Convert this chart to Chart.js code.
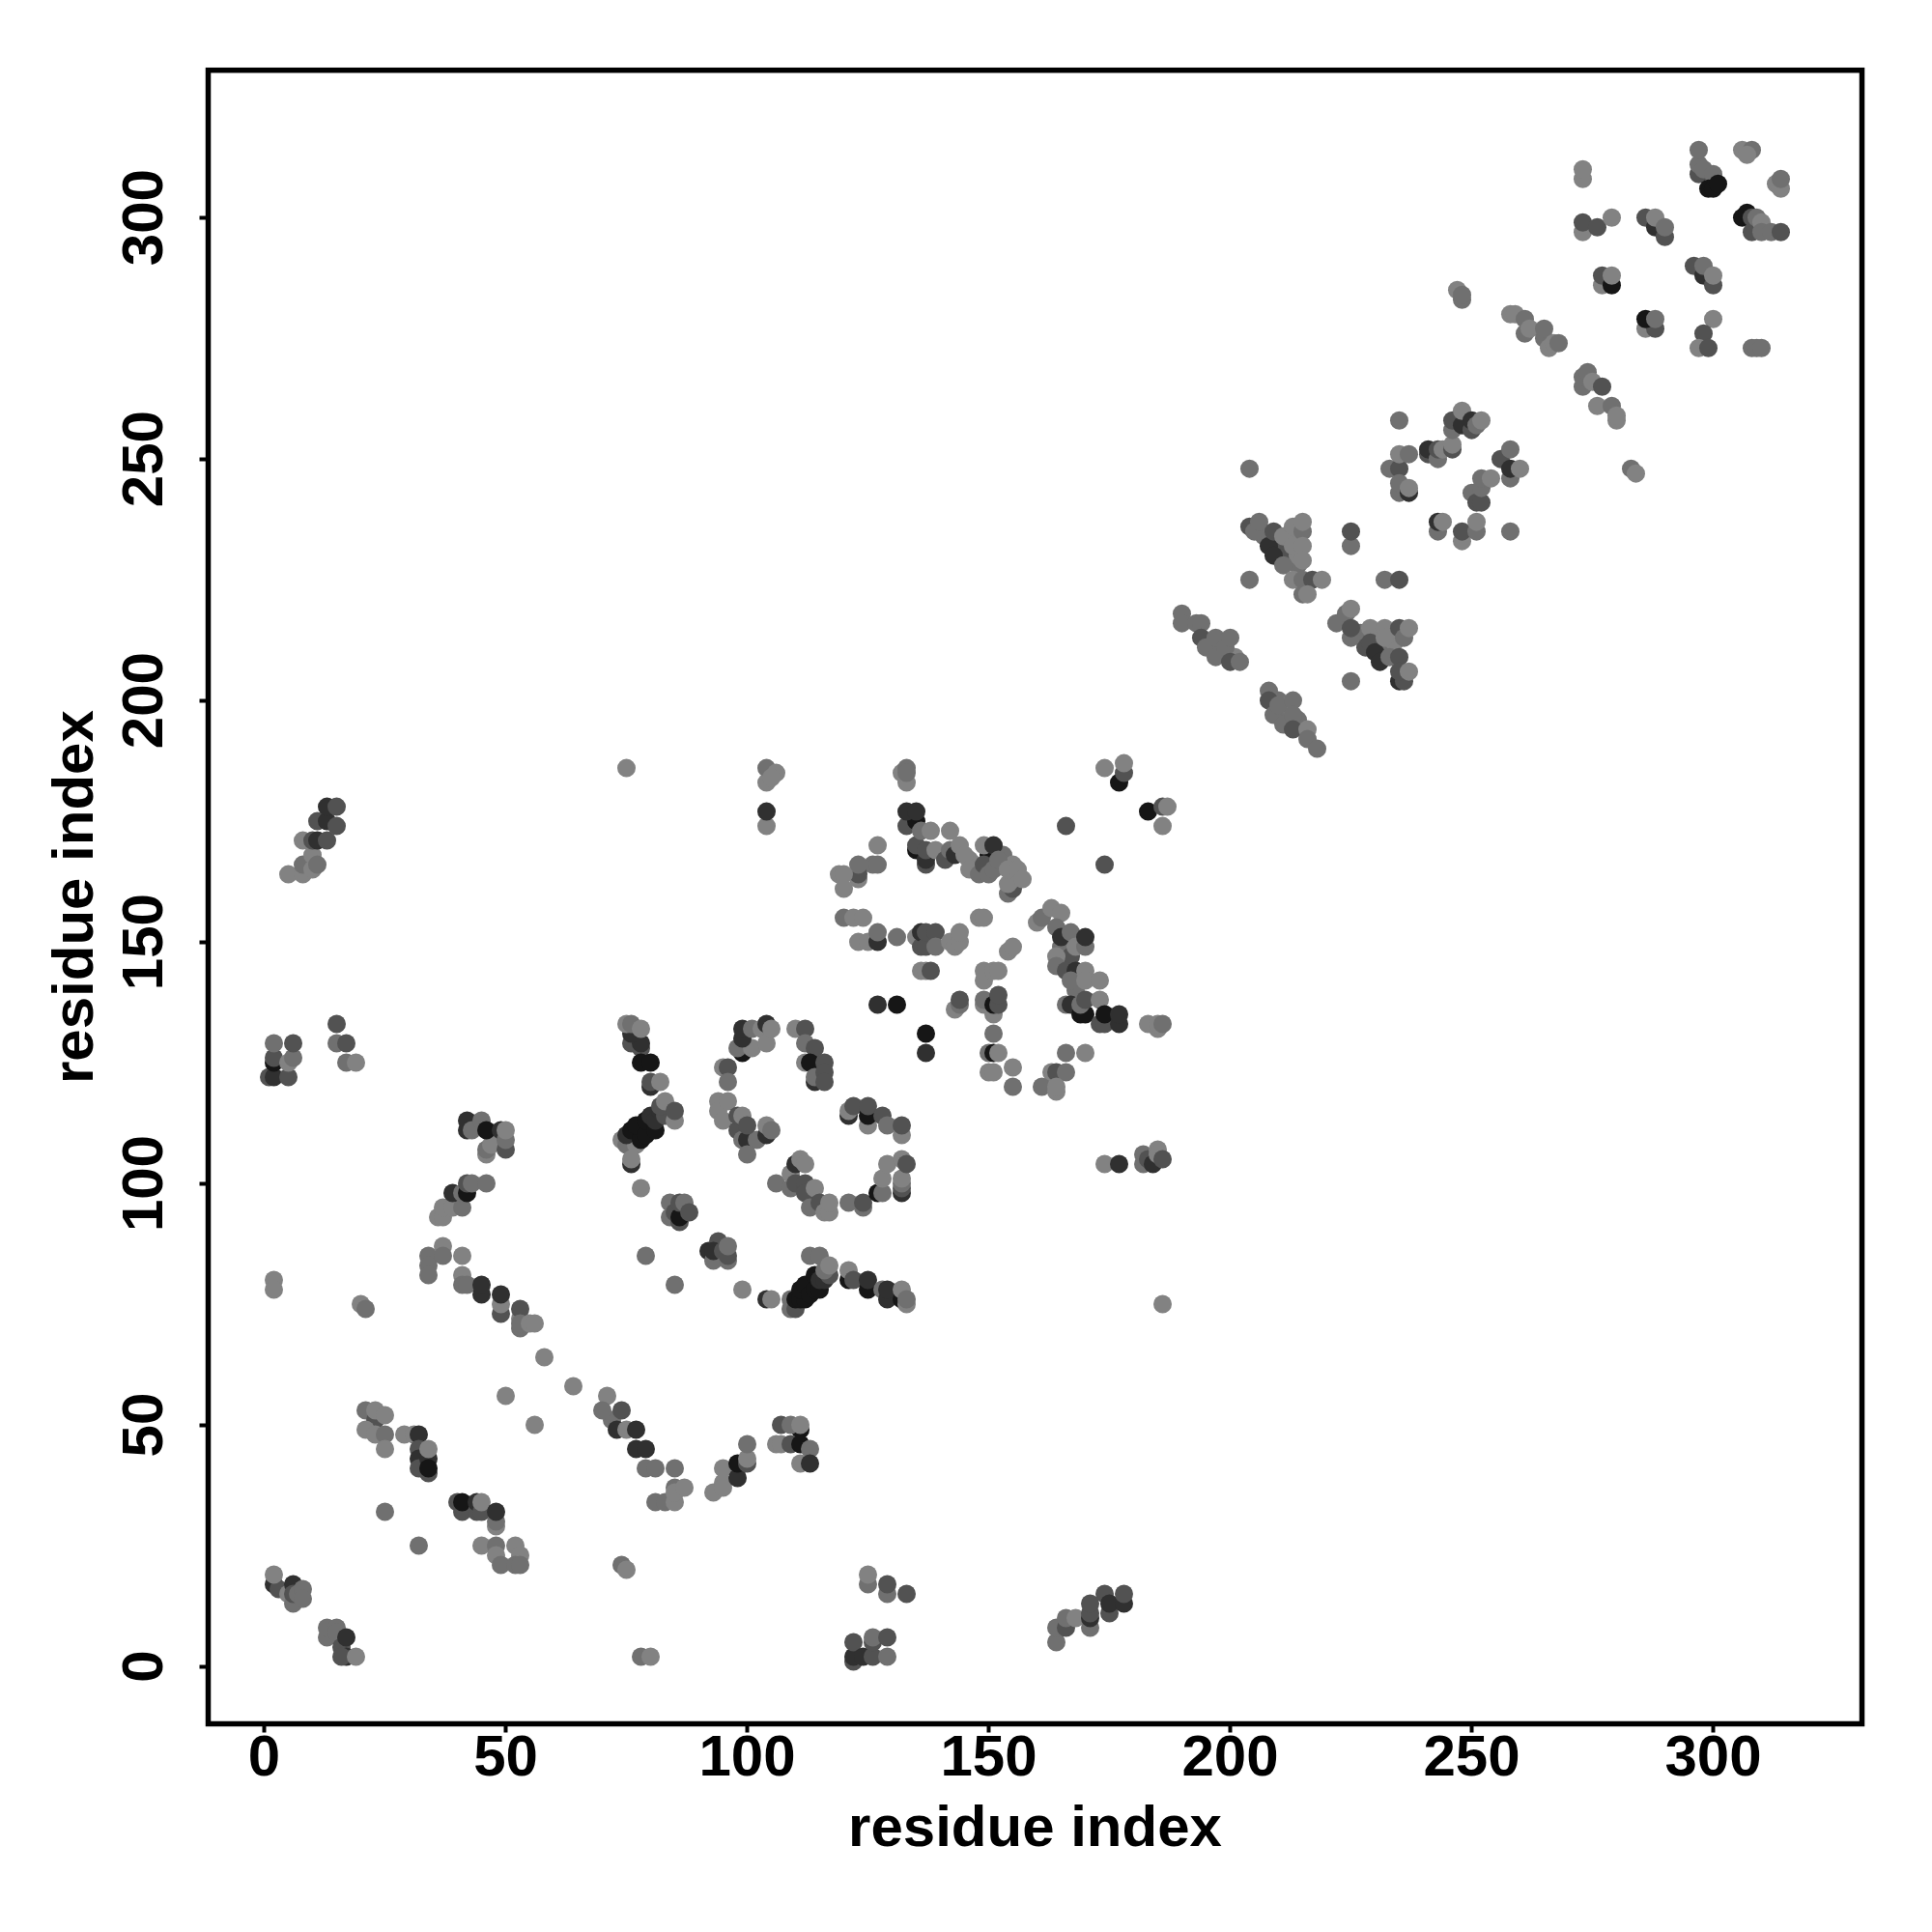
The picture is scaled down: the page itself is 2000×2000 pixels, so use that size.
<!DOCTYPE html>
<html>
<head>
<meta charset="utf-8">
<title>residue contact map</title>
<script src="https://cdn.jsdelivr.net/npm/chart.js@4/dist/chart.umd.min.js"></script>
<style>
    html, body { margin: 0; padding: 0; background: #fff; }
    canvas { display: block; }
</style>
</head>
<body>
<canvas id="contactMap" width="2000" height="2000"></canvas>
<script>
//tick labels
const tickValues = [0, 50, 100, 150, 200, 250, 300]

//contact data. same line = same group of points in all three lists
const contactX = [
    2,2,20,21,34,34,34,37,37,41,41,41,42,
    45,45,49,49,49,53,53,53,53,55,56,58,64,50,56,
    72,71,70,74,73,75,77,77,79,79,81,85,
    81,83,85,85,85,87,93,95,95,95,98,98,98,100,100,100,
    111,107,109,111,106,107,109,111,113,111,113,
    21,23,23,25,21,23,25,25,
    29,31,32,32,32,32,34,34,34,34,
    25,32,40,41,41,44,44,45,45,48,48,48,
    45,48,48,49,52,53,52,53,74,75,
    2,3,2,5,6,6,6,7,8,8,
    13,13,15,15,16,17,16,17,19,
    78,80,125,125,129,129,133,122,122,122,124,126,126,126,129,129,
    164,164,166,166,168,171,171,171,171,175,174,175,178,178,
    42,42,43,45,46,46,47,46,49,50,50,50,
    36,37,37,39,41,39,41,42,42,43,46,
    76,78,78,76,75,76,78,78,80,80,80,82,
    74,75,77,75,76,78,77,79,79,81,80,81,82,83,82,83,85,85,
    76,76,78,
    84,84,85,86,86,86,87,88,
    79,85,99,104,105,
    92,93,94,93,95,96,96,96,
    99,98,101,99,99,101,103,104,104,105,
    95,96,96,
    110,112,112,114,112,113,114,114,116,116,116,
    94,94,95,98,96,98,99,99,100,102,100,100,104,104,105,
    106,109,109,110,111,112,110,112,112,114,113,115,116,117,117,
    121,124,124,
    121,121,122,125,125,125,128,129,132,132,
    127,128,128,129,132,132,132,132,132,133,
    109,109,110,110,111,112,111,112,113,114,114,115,115,116,
    113,115,117,116,117,
    121,121,122,125,125,128,129,129,132,132,133,133,
    133,132,133,133,
    133,135,133,135,135,135,137,137,137,136,138,139,142,
    146,147,153,155,
    141,142,143,144,145,146,148,150,149,149,151,150,151,152,
    154,155,155,154,154,156,157,
    127,126,127,123,123,123,119,120,120,
    120,122,124,123,125,127,127,131,
    135,136,136,137,137,139,139,142,143,144,144,
    136,137,138,
    127,131,137,137,
    143,144,144,
    149,149,151,152,149,149,151,151,152,152,151,
    150,151,152,150,151,155,155,148,149,154,155,
    166,174,
    177,174,178,178,183,186,186,187,
    165,165,166,167,168,
    160,161,163,165,164,165,167,168,170,170,164,164,166,168,167,170,170,173,
    166,167,169,170,169,170,173,174,173,174,177,177,
    166,170,163,164,166,161,164,164,
    183,185,185,186,
    174,177,
    182,182,183,185,184,185,186,
    75,186,104,104,104,104,106,105,
    204,204,
    207,210,212,214,212,214,
    204,205,206,208,209,209,211,211,213,213,215,215,215,215,
    213,215,217,215,216,219,
    225,225,232,235,225,
    227,228,230,233,231,234,
    222,224,225,225,225,229,229,230,231,232,232,233,235,235,235,236,235,237,236,237,
    196,198,201,
    190,190,193,194,194,195,197,197,199,200,200,202,
    210,211,212,214,
    208,208,209,210,213,211,213,213,216,216,218,
    233,235,235,235,235,237,237,237,
    241,241,243,243,244,246,246,246,246,248,248,250,250,251,252,
    250,251,252,252,252,254,256,258,258,258,260,
    243,243,244,248,248,251,251,258,235,
    247,248,248,
    258,259,261,261,262,265,265,266,267,268,
    273,273,274,275,277,276,279,280,280,
    283,284,
    273,273,273,273,276,279,
    286,288,290,288,290,
    277,277,279,279,
    286,288,286,288,
    296,298,298,300,300,
    300,298,297,299,
    308,309,310,
    297,297,297,298,300,299,300,301,
    306,308,307,
    313,314,314,
    306,307,308,308,309,310,310,312,314,
    5,8,8,10,10,11,
    8,10,11,13,11,13,15,13,15,
    1,2,5,2,2,5,6,2,6,
    15,15,17,17,19
]
const contactY = [
    80,78,75,74,85,83,81,87,85,85,81,79,79,
    77,79,73,75,77,70,72,74,71,71,71,64,58,56,50,
    51,56,53,53,49,49,49,45,45,41,41,41,
    34,34,34,37,36,37,36,41,38,37,41,39,42,42,43,46,
    49,50,50,50,46,46,46,46,45,42,42,
    53,51,53,52,49,48,48,45,
    48,48,48,45,43,41,40,43,45,41,
    32,25,34,32,34,32,34,32,34,29,30,32,
    25,25,23,21,25,23,21,21,21,20,
    17,16,19,15,13,17,15,15,16,14,
    6,8,8,7,4,2,2,6,2,
    2,2,17,19,15,17,15,1,2,5,2,2,5,6,2,6,
    5,8,8,10,10,8,10,11,13,11,15,13,13,15,
    111,113,111,113,106,107,108,111,111,107,109,111,
    93,93,95,95,95,98,98,98,100,100,100,
    129,128,129,131,133,133,132,125,125,120,121,121,
    109,108,108,110,111,109,112,110,113,111,114,113,115,114,116,117,113,115,
    104,105,99,
    93,96,94,92,93,96,96,94,
    85,79,78,76,76,
    86,84,88,86,86,84,85,87,
    127,128,128,130,132,132,132,129,133,132,
    124,124,121,
    132,132,129,128,125,125,121,122,125,123,121,
    117,115,113,111,117,114,114,109,109,109,112,106,110,112,111,
    100,99,102,104,105,104,100,100,98,99,95,96,94,94,96,
    96,95,96,
    114,115,116,112,114,116,114,112,110,112,
    98,98,101,104,98,99,100,101,105,104,
    74,76,74,76,76,76,78,79,77,78,81,78,80,80,
    85,85,81,82,83,
    80,82,80,78,80,78,76,78,76,78,75,76,
    183,185,186,185,
    174,175,177,177,169,170,166,167,169,173,173,169,173,
    167,166,168,166,
    167,169,168,170,168,165,164,168,170,166,170,164,165,167,
    160,161,163,162,165,165,163,
    170,166,166,163,164,166,164,164,161,
    155,155,155,150,150,150,152,151,
    151,149,152,149,152,152,149,150,149,150,152,
    144,144,144,
    137,137,131,127,
    136,137,138,
    142,144,144,144,137,138,135,137,137,139,131,
    127,127,127,123,123,124,120,155,155,148,149,
    174,166,
    183,186,185,187,177,174,178,178,
    149,147,146,147,140,
    154,155,157,156,153,151,152,149,149,151,147,145,144,144,142,144,142,142,
    137,137,135,135,137,138,133,133,138,135,133,135,
    127,127,123,123,123,120,119,120,
    133,132,133,133,
    104,104,
    106,104,105,107,104,106,105,
    186,75,174,177,183,186,185,184,
    248,225,
    234,232,230,228,234,230,
    236,235,237,232,230,235,228,234,236,232,235,237,232,229,
    225,225,225,222,222,225,
    232,235,225,225,204,
    214,211,212,211,214,212,
    216,218,219,213,215,215,212,210,208,215,213,209,215,209,204,204,206,206,213,215,
    212,210,209,
    218,216,216,216,213,211,213,209,211,213,208,208,
    200,198,199,196,
    202,200,197,199,200,195,197,194,194,192,190,
    248,243,248,245,251,251,243,244,
    251,252,250,252,252,252,253,256,258,257,260,256,258,257,258,
    243,241,241,244,246,246,250,246,248,252,248,
    235,237,237,233,235,235,237,235,258,
    285,283,284,
    280,280,276,279,277,275,277,273,274,274,
    265,267,268,266,265,261,261,258,259,
    248,247,
    308,310,297,299,298,300,
    300,298,296,300,298,
    286,288,286,288,
    277,277,279,279,
    290,288,290,286,288,
    279,276,273,273,
    273,273,273,
    309,311,314,310,309,306,306,307,
    314,314,313,
    307,306,308,
    300,301,297,300,300,299,297,297,297,
    164,164,166,168,165,166,
    171,171,171,171,175,175,174,178,178,
    122,122,122,125,126,125,126,129,129,
    133,129,129,125,125
]
//1 = strongest contact (darkest), 5 = weakest
const contactStrength = [
    5,5,5,4,4,4,4,5,4,5,5,4,4,
    2,2,3,5,2,4,5,3,4,5,5,5,5,5,5,
    4,5,4,3,2,5,2,2,2,4,4,4,
    4,4,5,4,5,5,5,5,5,5,5,2,1,3,5,4,
    1,3,4,5,5,5,3,1,4,5,2,
    4,3,5,5,5,5,4,5,
    5,5,2,3,2,3,3,2,5,1,
    4,4,3,3,1,3,2,3,5,5,4,2,
    5,4,5,4,5,5,4,4,4,5,
    2,3,5,5,4,2,3,4,4,4,
    4,4,4,4,3,2,3,2,5,
    4,5,4,5,4,3,3,3,2,3,2,3,3,4,4,3,
    4,4,3,4,5,4,2,3,3,3,3,2,2,3,
    2,2,4,4,5,4,5,1,2,3,4,5,
    5,5,5,5,4,2,4,1,3,4,4,
    3,3,2,2,5,4,5,1,1,2,3,5,
    5,4,5,2,1,1,1,1,1,1,2,2,2,3,3,5,5,3,
    2,5,5,
    4,4,3,3,1,3,4,3,
    4,4,5,2,5,
    2,4,3,2,3,4,3,4,
    1,4,5,2,2,4,5,5,2,5,
    5,3,4,
    5,3,4,3,5,1,2,4,3,3,3,
    5,5,5,3,5,3,5,4,2,4,3,4,2,5,4,
    4,4,5,2,5,5,3,3,3,5,4,3,5,5,5,
    4,4,3,
    2,5,3,5,1,3,3,4,5,3,
    1,4,5,5,2,3,4,5,5,3,
    4,4,3,1,1,1,1,1,1,1,1,1,2,2,
    4,4,3,4,5,
    1,5,3,1,2,4,2,2,1,5,5,4,
    5,5,4,4,
    3,1,2,2,1,3,3,2,3,4,5,5,5,
    5,5,4,5,
    3,4,2,5,5,5,4,1,5,3,2,4,4,4,
    4,3,5,5,5,5,5,
    5,4,4,5,3,4,5,5,5,
    4,5,5,5,5,2,4,4,
    5,3,2,3,3,3,4,5,5,5,5,
    5,5,3,
    2,1,1,2,
    5,4,3,
    5,5,5,5,5,4,5,1,3,3,4,
    4,1,5,5,5,5,4,5,5,5,5,
    3,3,
    1,5,3,5,1,5,3,5,
    4,4,3,3,4,
    5,4,5,5,4,2,4,5,4,2,5,4,3,2,4,5,5,5,
    4,2,1,1,4,3,3,3,5,1,2,2,
    4,5,5,3,4,4,5,5,
    5,5,5,4,
    5,2,
    4,4,3,5,2,5,3,
    5,5,5,2,5,4,5,5,
    4,4,
    4,3,3,4,5,5,
    3,4,4,2,2,3,4,5,5,5,4,5,5,5,
    5,4,3,4,5,5,
    4,3,4,3,4,
    4,3,4,4,5,5,
    4,4,5,4,3,5,3,2,2,5,5,4,3,3,2,3,3,5,4,5,
    4,4,5,
    4,4,4,4,3,4,4,4,4,4,3,4,
    4,4,5,4,
    4,3,4,4,4,4,4,3,5,4,4,
    4,4,3,4,5,4,2,5,
    3,2,4,3,5,3,5,4,3,2,5,3,2,4,5,
    4,3,3,4,4,5,3,4,2,4,5,
    4,2,5,5,3,4,5,4,4,
    5,4,4,
    5,5,4,4,5,4,4,5,5,4,
    4,4,4,5,3,5,4,5,5,
    4,5,
    5,5,5,3,3,5,
    3,2,3,5,4,
    5,3,1,5,
    5,3,1,4,
    3,2,4,3,5,
    5,3,5,3,
    4,4,4,
    3,4,4,4,4,1,1,1,
    5,4,5,
    5,5,4,
    1,1,3,3,4,5,4,4,3,
    5,5,4,5,5,4,
    5,3,2,3,3,2,3,2,3,
    3,2,3,1,3,5,4,4,3,
    3,4,3,4,5
]

if (contactX.length != contactY.length || contactX.length != contactStrength.length) {
    throw new Error(`lengths differ: ${contactX.length} ${contactY.length} ${contactStrength.length}`)
}

//strength to grey
const strengthColors = ['#161616', '#303030', '#525252', '#707070', '#828282']

const points = contactX.map((x, i) => ({x: x, y: contactY[i]}))
const colors = contactStrength.map(s => strengthColors[s - 1])

//box around the plot
const frame = {
    id: 'frame',
    afterDatasetsDraw(chart) {
        const {ctx, chartArea: a} = chart
        ctx.save()
        ctx.strokeStyle = '#000'
        ctx.lineWidth = 5.5
        ctx.strokeRect(a.left, a.top, a.right - a.left, a.bottom - a.top)
        ctx.restore()
    }
}

const tickFont = {family: '"Liberation Sans"', size: 60, weight: 'bold'}

const axis = (min, max) => ({
    type: 'linear',
    min: min,
    max: max,
    afterBuildTicks: scale => { scale.ticks = tickValues.map(v => ({value: v})) },
    grid: {drawOnChartArea: false, drawTicks: true, tickLength: 9, tickWidth: 4, tickColor: '#000'},
    border: {display: false},
    title: {display: true, text: 'residue index', color: '#000', font: tickFont}
})

const xAxis = axis(-11.6, 330.8)
xAxis.position = 'bottom'
xAxis.ticks = {color: '#000', font: tickFont, padding: -8, maxRotation: 0, autoSkip: false}
xAxis.title.padding = {top: 0, bottom: 70}
xAxis.afterFit = scale => { scale.height = 215.5 }

const yAxis = axis(-11.9, 330.5)
yAxis.position = 'left'
yAxis.ticks = {color: '#000', font: tickFont, padding: 4.5, minRotation: 90, maxRotation: 90, crossAlign: 'center', autoSkip: false}
yAxis.title.padding = {top: 43, bottom: 0}
yAxis.afterFit = scale => { scale.width = 215.5 }

new Chart(document.getElementById('contactMap'), {
    type: 'scatter',
    data: {
        datasets: [{
            data: points,
            pointRadius: 9.5,
            pointBorderWidth: 0,
            pointBackgroundColor: colors
        }]
    },
    options: {
        responsive: false,
        animation: false,
        layout: {padding: {top: 72.7, right: 72.5, left: 0, bottom: 0}},
        plugins: {legend: {display: false}, tooltip: {enabled: false}},
        scales: {x: xAxis, y: yAxis}
    },
    plugins: [frame]
})
</script>
</body>
</html>
